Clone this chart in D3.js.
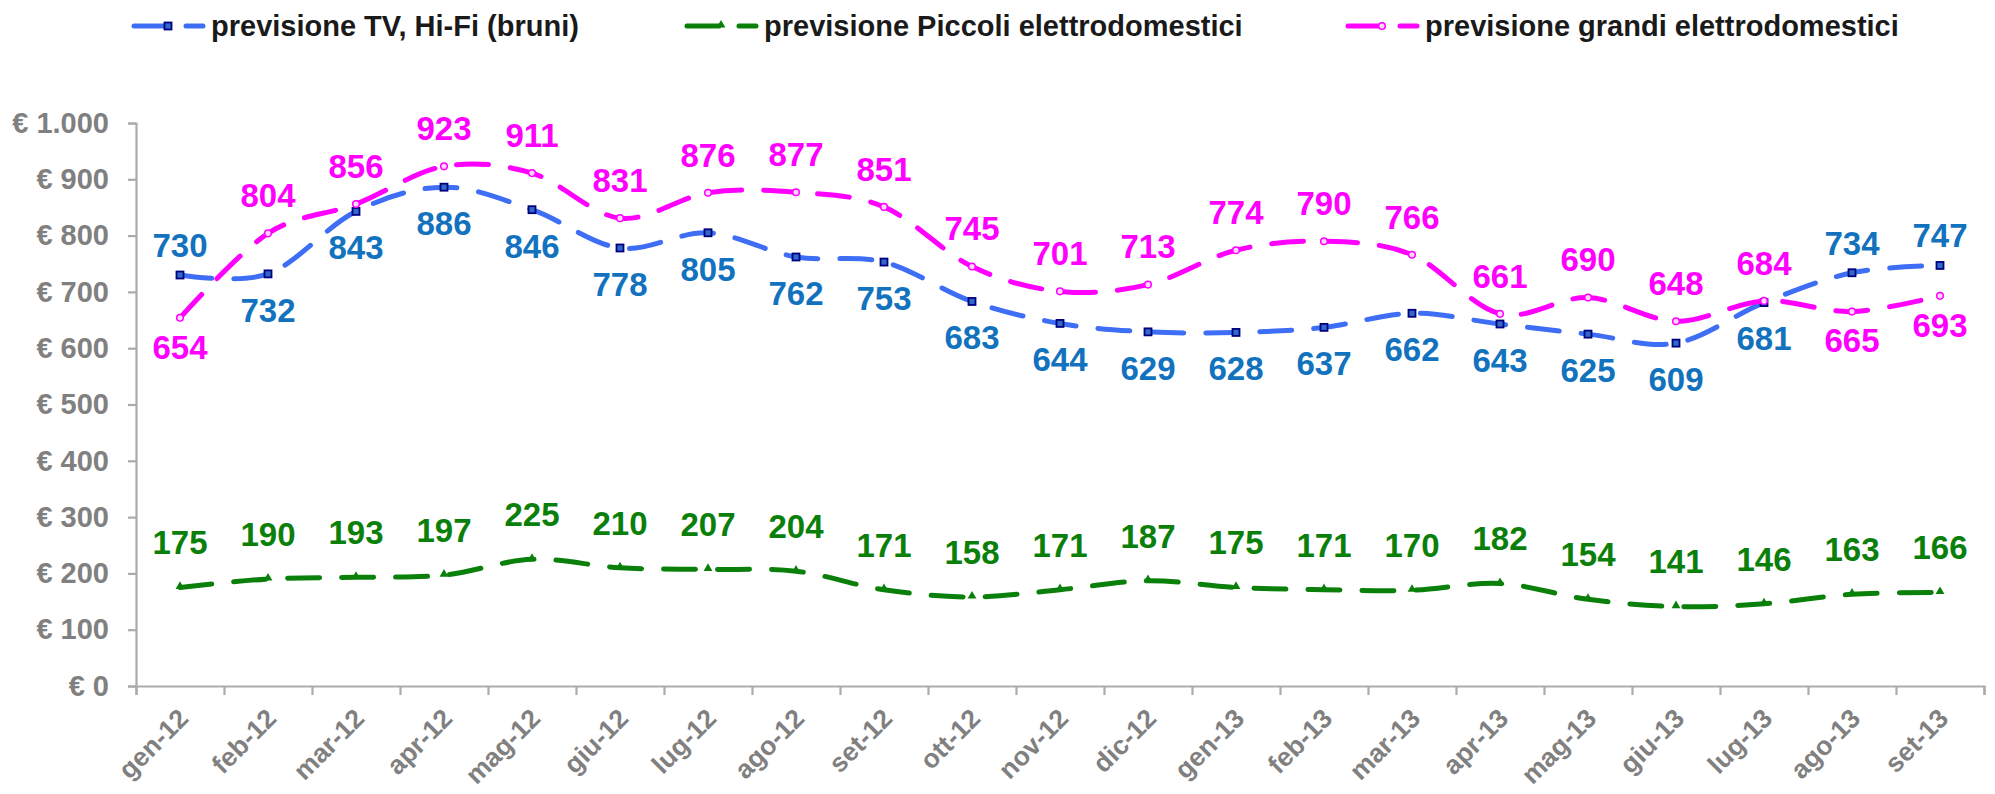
<!DOCTYPE html>
<html>
<head>
<meta charset="utf-8">
<script src="https://cdn.jsdelivr.net/npm/d3@7"></script>
<style>
  html, body { margin: 0; padding: 0; background: #fff; }
  svg { display: block; font-family: "Liberation Sans", Arial, sans-serif; }
</style>
</head>
<body>
<svg id="chart" width="1995" height="794"></svg>
<script>
// ---- data ----
const categories = ["gen-12","feb-12","mar-12","apr-12","mag-12","giu-12","lug-12","ago-12","set-12","ott-12","nov-12","dic-12",
                    "gen-13","feb-13","mar-13","apr-13","mag-13","giu-13","lug-13","ago-13","set-13"];
const seriesNames = ["previsione TV, Hi-Fi (bruni)", "previsione Piccoli elettrodomestici", "previsione grandi elettrodomestici"];
const tvHifi   = [730,732,843,886,846,778,805,762,753,683,644,629,628,637,662,643,625,609,681,734,747];
const piccoli  = [175,190,193,197,225,210,207,204,171,158,171,187,175,171,170,182,154,141,146,163,166];
const grandi   = [654,804,856,923,911,831,876,877,851,745,701,713,774,790,766,661,690,648,684,665,693];
const yTicks = [0,100,200,300,400,500,600,700,800,900,1000];
const yTickLabels = ["€ 0","€ 100","€ 200","€ 300","€ 400","€ 500","€ 600","€ 700","€ 800","€ 900","€ 1.000"];

// ---- layout ----
const svg = d3.select("#chart");
const plotLeft = 136, plotRight = 1984, plotTop = 123, plotBottom = 686;
const x = d3.scaleBand().domain(categories).range([plotLeft, plotRight]).padding(0);
const cx = c => x(c) + x.bandwidth() / 2;
const y = d3.scaleLinear().domain([0, 1000]).range([plotBottom, plotTop]);
const axisColor = "#ABABAB", axisText = "#808080";

// y axis
const yAxis = svg.append("g").attr("transform", `translate(${plotLeft},0)`)
  .call(d3.axisLeft(y).tickValues(yTicks).tickSize(8).tickPadding(19)
        .tickFormat((d, i) => yTickLabels[i]));
yAxis.select(".domain").attr("stroke", axisColor).attr("stroke-width", 2.2);
yAxis.selectAll(".tick line").attr("stroke", axisColor).attr("stroke-width", 2.2);
yAxis.selectAll(".tick text").attr("fill", axisText).attr("font-size", 29).attr("font-weight", "bold")
  .attr("font-family", "Liberation Sans, Arial, sans-serif");

// x axis (ticks at band boundaries)
const xi = d3.scaleLinear().domain([0, categories.length]).range([plotLeft, plotRight]);
const xAxis = svg.append("g").attr("transform", `translate(0,${plotBottom})`)
  .call(d3.axisBottom(xi).tickValues(d3.range(categories.length + 1)).tickSize(9).tickFormat(""));
xAxis.select(".domain").attr("stroke", axisColor).attr("stroke-width", 2.2);
xAxis.selectAll(".tick line").attr("stroke", axisColor).attr("stroke-width", 2.2);
svg.append("g").selectAll("text").data(categories).join("text")
  .attr("transform", d => `translate(${cx(d) + 10},${plotBottom + 34}) rotate(-45)`)
  .attr("text-anchor", "end")
  .attr("fill", axisText).attr("font-size", 26.5).attr("font-weight", "bold")
  .text(d => d);

// ---- series ----
const series = [
  { name: seriesNames[0], values: tvHifi,  line: "#3E6EF5", label: "#1272BE", marker: "square" },
  { name: seriesNames[1], values: piccoli, line: "#0A800A", label: "#0A800A", marker: "triangle" },
  { name: seriesNames[2], values: grandi,  line: "#FF00FF", label: "#FF00FF", marker: "circle" }
];
const line = d3.line().x((d, i) => cx(categories[i])).y(d => y(d)).curve(d3.curveCardinal.tension(0));
const dash = "32,22";

function drawMarker(g, type, px, py) {
  if (type === "square") {
    g.append("rect").attr("x", px - 3.5).attr("y", py - 3.5).attr("width", 7).attr("height", 7)
      .attr("fill", "#2E6AC8").attr("stroke", "#000080").attr("stroke-width", 1.8);
  } else if (type === "triangle") {
    g.append("path").attr("d", d3.symbol(d3.symbolTriangle, 34)())
      .attr("transform", `translate(${px},${py - 1})`).attr("fill", "#0A800A");
  } else {
    g.append("circle").attr("cx", px).attr("cy", py).attr("r", 3.3)
      .attr("fill", "#FFD6FF").attr("stroke", "#FF00FF").attr("stroke-width", 1.5);
  }
}

series.forEach(s => {
  const g = svg.append("g");
  g.append("path").attr("d", line(s.values)).attr("fill", "none")
    .attr("stroke", s.line).attr("stroke-width", 5).attr("stroke-dasharray", dash)
    .attr("stroke-linecap", "round");
  s.values.forEach((v, i) => drawMarker(g, s.marker, cx(categories[i]), y(v)));
});

// ---- data labels ----
// blue/magenta: above if higher than the other, else below; green always above
function labelOffset(si, i) {
  if (si === 1) return -45;
  const mine = series[si].values[i], other = series[si === 0 ? 2 : 0].values[i];
  if (si === 0) return mine > other ? -30 : 36;
  return mine > other ? -38 : 29;
}
series.forEach((s, si) => {
  svg.append("g").selectAll("text").data(s.values).join("text")
    .attr("x", (d, i) => cx(categories[i]))
    .attr("y", (d, i) => y(d) + labelOffset(si, i))
    .attr("dy", "0.36em")
    .attr("text-anchor", "middle")
    .attr("fill", s.label).attr("font-size", 33).attr("font-weight", "bold")
    .text(d => d);
});

// ---- legend ----
const legendX = [132, 685, 1346];
const legendY = 26;
series.forEach((s, si) => {
  const g = svg.append("g").attr("transform", `translate(${legendX[si]},${legendY})`);
  g.append("line").attr("x1", 2).attr("x2", 71).attr("y1", 0).attr("y2", 0)
    .attr("stroke", s.line).attr("stroke-width", 5).attr("stroke-dasharray", "32,20")
    .attr("stroke-linecap", "round");
  drawMarker(g, s.marker, 36, 0);
  g.append("text").attr("x", 79).attr("y", 0).attr("dy", "0.36em")
    .attr("font-size", 29).attr("font-weight", "bold").attr("fill", "#1A1A1A")
    .text(s.name);
});
</script>
</body>
</html>
